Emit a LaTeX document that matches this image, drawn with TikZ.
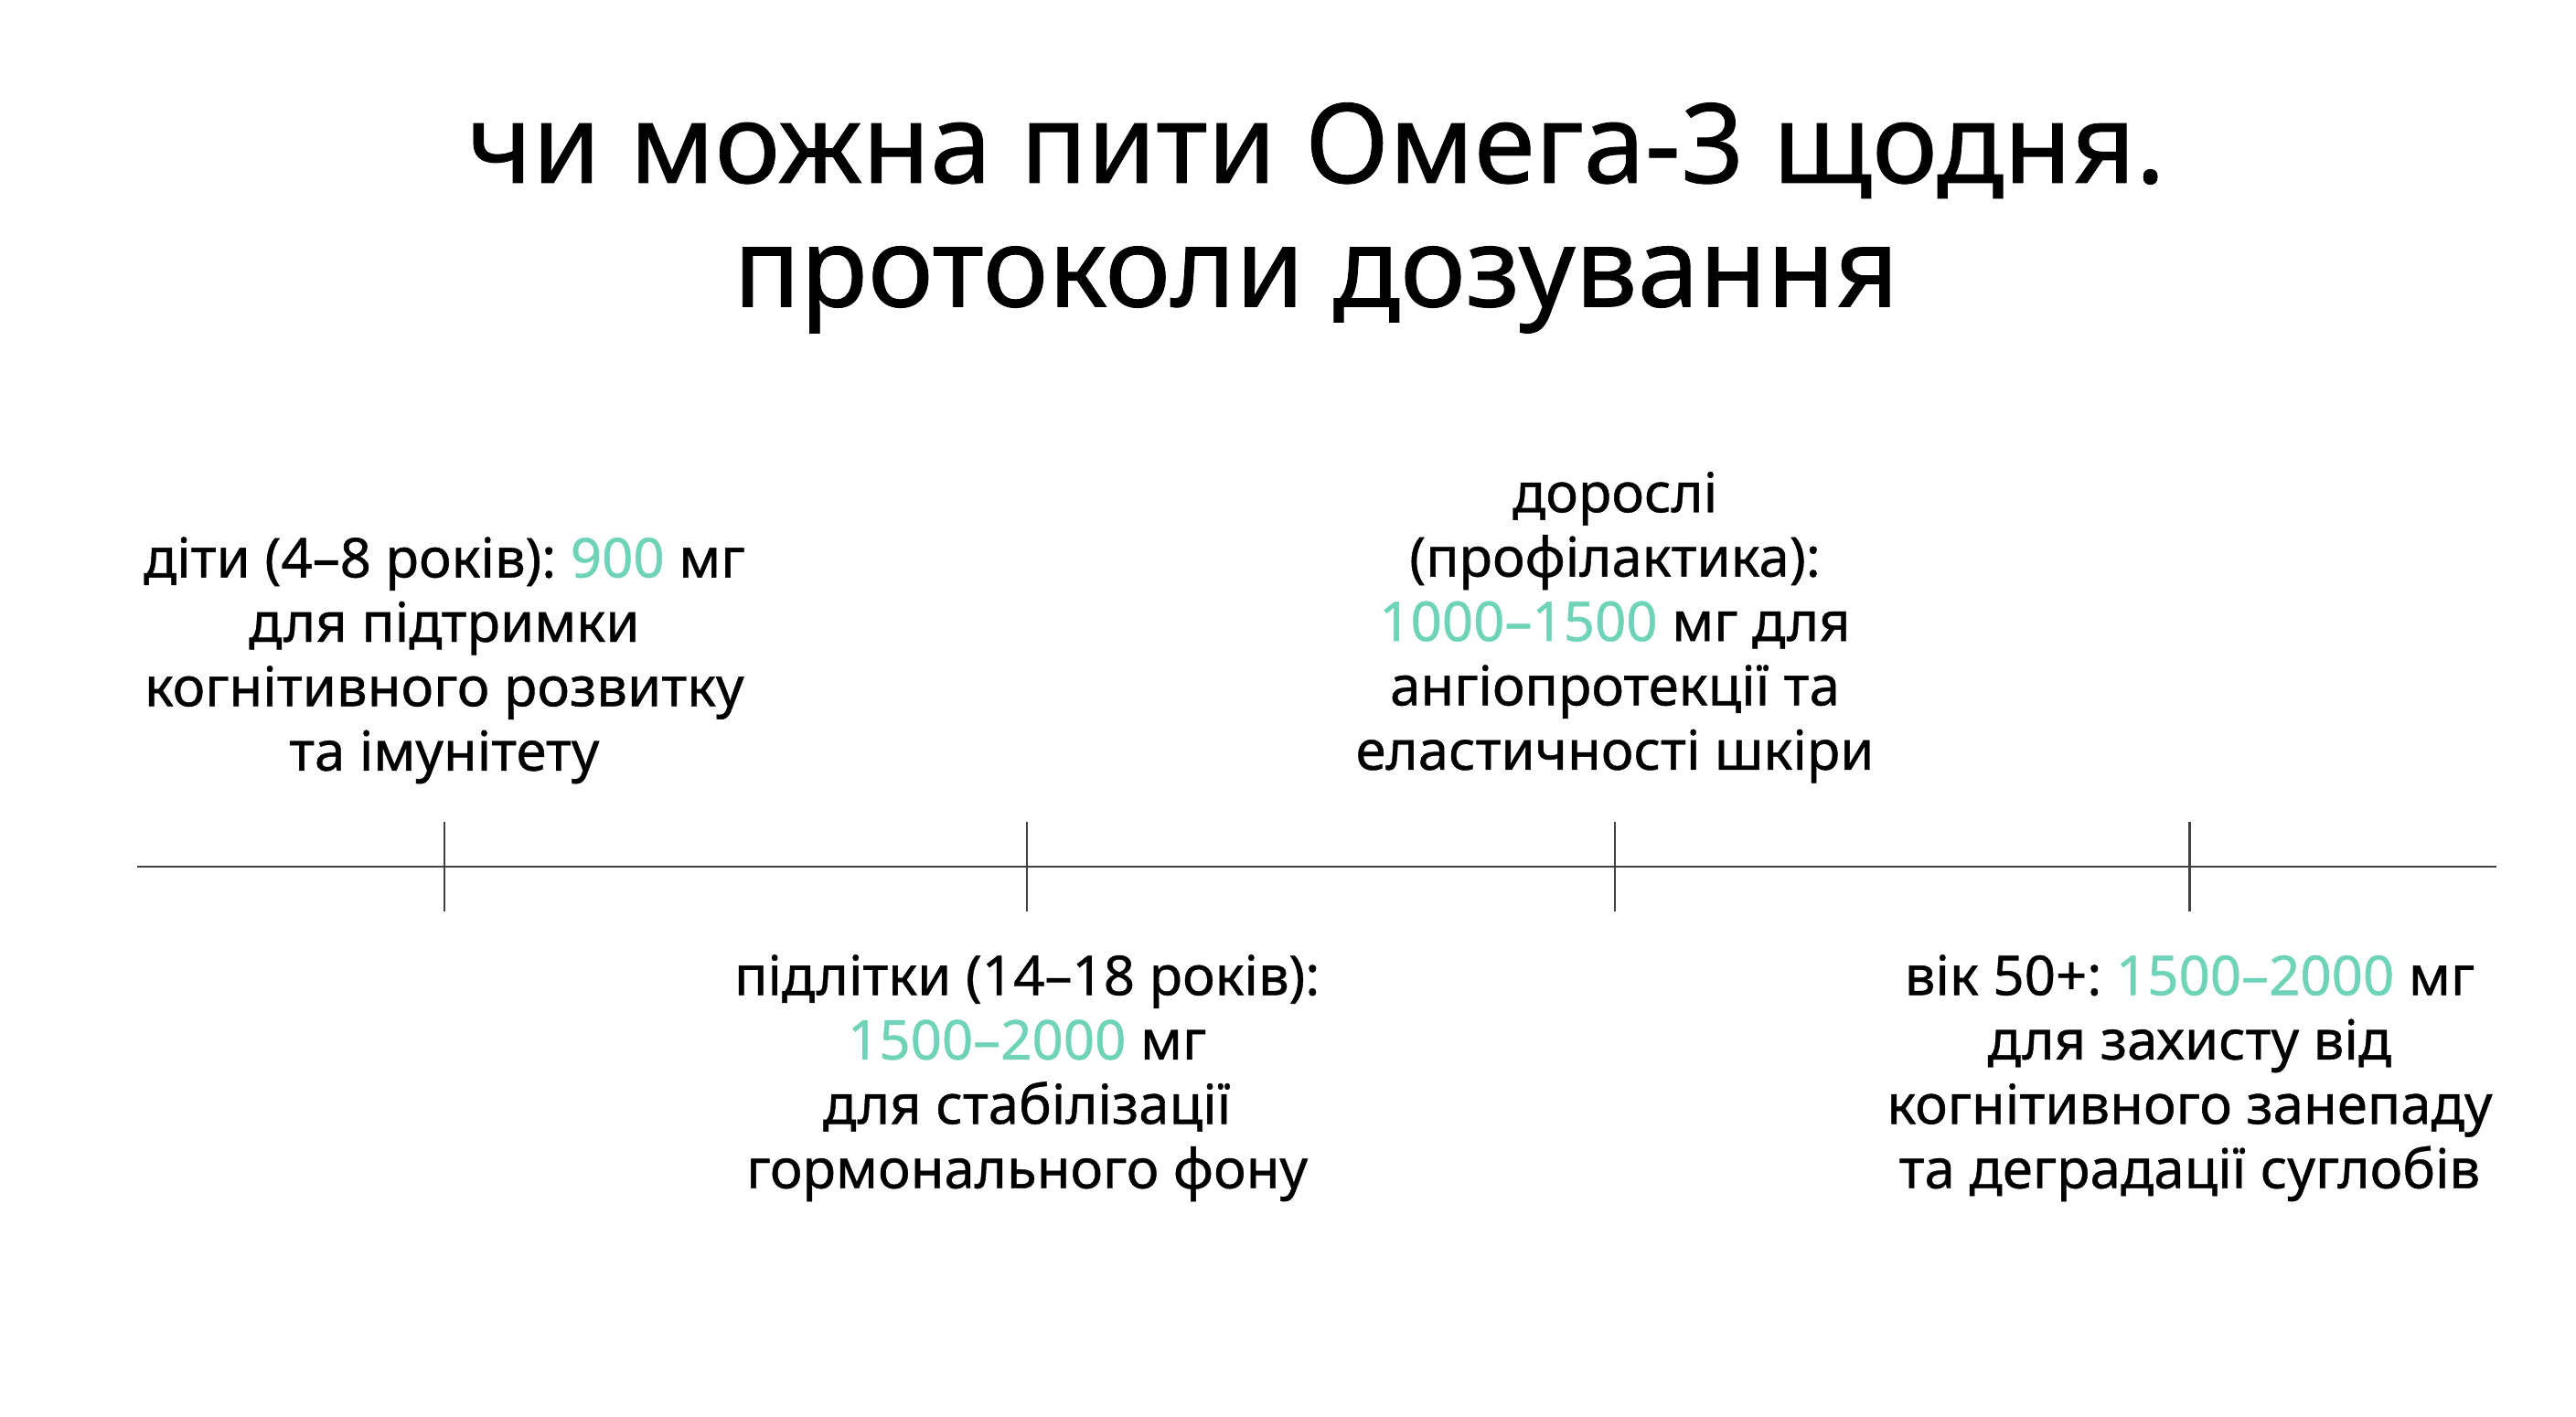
\documentclass[tikz,border=0pt]{standalone}
\usepackage{fontspec}
\setmainfont{Noto Sans}[FakeBold=0.7]
\definecolor{acc}{HTML}{6FD3B8}
\begin{document}
\begin{tikzpicture}[x=0.5pt,y=-0.5pt,
  lbl/.style={align=center,font=\bfseries\fontsize{16.6}{19.5}\selectfont,inner sep=0},
  tick/.style={line width=0.6pt,black!75}]
\useasboundingbox[fill=white] (0,0) rectangle (1560,858);
\node[align=center,font=\bfseries\fontsize{33.5}{37.5}\selectfont,inner sep=0] (title) at (797,132) {чи можна пити Омега-3 щодня.\\протоколи дозування};
\coordinate (L) at (83,525); \coordinate (R) at (1512,525);
\draw[tick] (L) -- (R);
\foreach \n/\x in {a/269,b/622,c/978,d/1326}{
  \coordinate (\n1) at (\x,498); \coordinate (\n2) at (\x,552);
  \draw[tick] (\n1) -- (\n2);}
\node[lbl] (t1) at (269,400) {діти (4–8 років):~\textcolor{acc}{900} мг\\для підтримки\\когнітивного розвитку\\та імунітету};
\node[lbl] (t2) at (622,653) {підлітки (14–18 років):\\\textcolor{acc}{1500–2000} мг\\для стабілізації\\гормонального фону};
\node[lbl] (t3) at (978,380) {дорослі\\(профілактика):\\\textcolor{acc}{1000–1500} мг для\\ангіопротекції та\\еластичності шкіри};
\node[lbl] (t4) at (1326,653) {вік 50+:~\textcolor{acc}{1500–2000} мг\\для захисту від\\когнітивного занепаду\\та деградації суглобів};
\end{tikzpicture}
\end{document}
